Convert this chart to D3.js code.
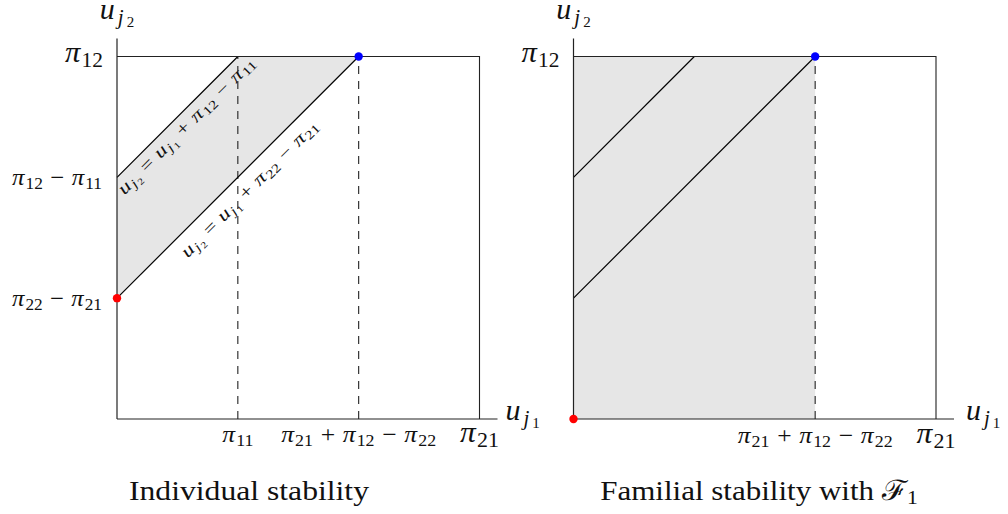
<!DOCTYPE html>
<html>
<head>
<meta charset="utf-8">
<script src="https://cdn.jsdelivr.net/npm/d3@7"></script>
<style>
  body { margin: 0; background: #fff; }
</style>
</head>
<body>
<svg id="fig" width="1008" height="514"></svg>
<script>
// Payoffs of the two-by-two matching game
const pi11 = 1, pi12 = 3, pi21 = 3, pi22 = 4;

// Boundary lines u_j2 = u_j1 + c
const boundaryLabels = ["u_{j_2} = u_{j_1} + π_{12} − π_{11}", "u_{j_2} = u_{j_1} + π_{22} − π_{21}"];
const boundaryIntercepts = [pi12 - pi11, pi22 - pi21];

// Tick values and their labels
const leftYTickValues = [pi12, pi12 - pi11, pi22 - pi21];
const leftYTickLabels = ["π_{12}", "π_{12} − π_{11}", "π_{22} − π_{21}"];
const leftXTickValues = [pi11, pi21 + pi12 - pi22, pi21];
const leftXTickLabels = ["π_{11}", "π_{21} + π_{12} − π_{22}", "π_{21}"];
const rightYTickValues = [pi12];
const rightYTickLabels = ["π_{12}"];
const rightXTickValues = [pi21 + pi12 - pi22, pi21];
const rightXTickLabels = ["π_{21} + π_{12} − π_{22}", "π_{21}"];

const axisLabels = ["u_{j_1}", "u_{j_2}"];
const panelTitles = ["Individual stability", "Familial stability with ℱ_{1}"];

const FONT = "'Liberation Serif', 'DejaVu Serif', serif";
const svg = d3.select("#fig");

// --- small TeX-like label renderer (subscripts via _ and {}) ---
function parseTex(str) {
  const out = [];
  (function rec(s, lvl) {
    let i = 0;
    while (i < s.length) {
      const c = s[i];
      if (c === "_") {
        i++;
        let arg;
        if (s[i] === "{") {
          let depth = 1, j = i + 1;
          while (depth) { if (s[j] === "{") depth++; else if (s[j] === "}") depth--; j++; }
          arg = s.slice(i + 1, j - 1); i = j;
        } else { arg = s[i]; i++; }
        rec(arg, lvl + 1);
      } else { out.push({ ch: c, lvl }); i++; }
    }
  })(str, 0);
  return out;
}

function kindOf(ch, math) {
  if ("=+−".includes(ch)) return math ? "op" : "rm";
  if (math && /[a-zπ]/.test(ch)) return "it";
  return "rm";
}

// opts: x, y, anchor, math, opGap, subGap, width (stretch horizontally to this width)
function texLabel(parent, str, S, opts = {}) {
  const math = opts.math !== false;
  const x0 = opts.x || 0, y0 = opts.y || 0;
  const t = parent.append("text")
    .attr("x", x0).attr("y", y0)
    .attr("font-family", FONT)
    .attr("fill", "#111")
    .attr("text-anchor", opts.anchor || "start");
  const items = parseTex(str).filter(d => !(math && d.ch === " "));
  const runs = [];
  items.forEach(d => {
    const k = kindOf(d.ch, math);
    const last = runs[runs.length - 1];
    if (last && last.lvl === d.lvl && last.kind === k && k !== "op") last.text += d.ch;
    else runs.push({ text: d.ch, lvl: d.lvl, kind: k });
  });
  const sizes = [S, 0.7 * S, 0.5 * S];
  const shifts = [0, 0.16 * S, 0.27 * S];
  const opGap = (opts.opGap != null ? opts.opGap : 0.26) * S;
  const subGap = (opts.subGap != null ? opts.subGap : 0.04) * S;
  let cur = 0, pad = 0, prevLvl = 0;
  runs.forEach(r => {
    const ts = t.append("tspan").text(r.text)
      .attr("font-size", sizes[r.lvl])
      .attr("font-style", r.kind === "it" ? "italic" : "normal");
    const target = shifts[r.lvl];
    if (target !== cur) ts.attr("dy", target - cur);
    cur = target;
    let dx = pad;
    pad = 0;
    if (r.kind === "op") { dx += opGap; pad = opGap; }
    if (math && r.lvl > prevLvl) dx += subGap;
    prevLvl = r.lvl;
    if (dx) ts.attr("dx", dx);
  });
  if (opts.width) {
    const w = t.node().getBBox().width;
    const sx = opts.width / w;
    t.attr("transform", `translate(${x0},${y0}) scale(${sx},1) translate(${-x0},${-y0})`);
  }
  return t;
}

// --- panel drawing ---
const boxTop = 56.5, boxBottom = 419, ext = 18;

function drawPanel(cfg) {
  const g = svg.append("g");
  const x = d3.scaleLinear().domain([0, pi21]).range([cfg.left, cfg.left + 362.5]);
  const y = d3.scaleLinear().domain([0, pi12]).range([boxBottom, boxTop]);

  // shaded stable region
  g.append("path")
    .attr("d", d3.line().x(d => x(d[0])).y(d => y(d[1]))(cfg.region) + "Z")
    .attr("fill", "#e6e6e6").attr("stroke", "none");

  // dashed guides
  g.selectAll(".guide").data(cfg.dashed).join("line")
    .attr("x1", d => x(d)).attr("x2", d => x(d))
    .attr("y1", y(0)).attr("y2", y(pi12))
    .attr("stroke", "#222").attr("stroke-width", 1.1)
    .attr("stroke-dasharray", "8,7");

  // boundary lines inside the box
  boundaryIntercepts.forEach((c, i) => {
    const p0 = [0, c], p1 = [pi12 - c, pi12];
    g.append("line")
      .attr("x1", x(p0[0])).attr("y1", y(p0[1]))
      .attr("x2", x(p1[0])).attr("y2", y(p1[1]))
      .attr("stroke", "#000").attr("stroke-width", 1.2);
    if (cfg.lineLabels) {
      const mx = (x(p0[0]) + x(p1[0])) / 2, my = (y(p0[1]) + y(p1[1])) / 2;
      const ang = Math.atan2(y(p1[1]) - y(p0[1]), x(p1[0]) - x(p0[0])) * 180 / Math.PI;
      const lg = g.append("g").attr("transform", `translate(${mx},${my}) rotate(${ang})`);
      texLabel(lg, boundaryLabels[i], 18, { anchor: "middle", y: cfg.labelOffsets[i], opGap: 0.3, subGap: 0.06, width: 186 });
    }
  });

  // box and axes
  const frame = d3.path();
  frame.moveTo(x(0), y(pi12)); frame.lineTo(x(pi21), y(pi12)); frame.lineTo(x(pi21), y(0));
  g.append("path").attr("d", frame.toString()).attr("fill", "none")
    .attr("stroke", "#222").attr("stroke-width", 1.1);
  g.append("line").attr("x1", x(0)).attr("x2", x(pi21) + ext).attr("y1", y(0)).attr("y2", y(0))
    .attr("stroke", "#222").attr("stroke-width", 1.2);
  g.append("line").attr("x1", x(0)).attr("x2", x(0)).attr("y1", y(0)).attr("y2", y(pi12) - ext)
    .attr("stroke", "#222").attr("stroke-width", 1.2);

  // highlighted points
  cfg.points.forEach(p => {
    g.append("circle").attr("cx", x(p.at[0])).attr("cy", y(p.at[1])).attr("r", 4.2).attr("fill", p.color);
  });

  // tick labels: box-edge ticks are set larger
  cfg.yTicks.forEach((v, i) => {
    const big = v === pi12;
    texLabel(g, cfg.yLabels[i], big ? 30 : 23, {
      anchor: "end", x: x(0) - (big ? 14 : 15), y: y(v) + (big ? 6 : 8),
      opGap: 0.3, width: big ? 38 : 90
    });
  });
  cfg.xTicks.forEach((v, i) => {
    const big = v === pi21;
    const lab = cfg.xLabels[i];
    texLabel(g, lab, big ? 30 : 23, {
      anchor: "middle", x: x(v), y: boxBottom + cfg.xLabelDrop,
      opGap: 0.3, width: big ? 39 : (lab.length > 10 ? 155 : 31)
    });
  });

  // axis names
  texLabel(g, axisLabels[1], 30, { anchor: "middle", x: x(0), y: 19, subGap: 0.1 });
  texLabel(g, axisLabels[0], 30, { anchor: "start", x: x(pi21) + ext + cfg.xNameGap, y: boxBottom + 1, subGap: 0.1 });

  // panel title
  texLabel(g, cfg.title, 28, { anchor: "middle", x: cfg.titleX, y: 500, math: false, width: cfg.titleWidth });
}

const cut = pi21 + pi12 - pi22;

drawPanel({
  left: 117,
  region: [[0, pi22 - pi21], [0, pi12 - pi11], [pi12 - (pi12 - pi11), pi12], [pi12 - (pi22 - pi21), pi12]],
  dashed: [pi11, cut],
  lineLabels: true,
  labelOffsets: [18, 22],
  points: [{ at: [0, pi22 - pi21], color: "#ff0000" }, { at: [cut, pi12], color: "#0000ff" }],
  yTicks: leftYTickValues, yLabels: leftYTickLabels,
  xTicks: leftXTickValues, xLabels: leftXTickLabels,
  xLabelDrop: 23,
  xNameGap: 8,
  title: panelTitles[0], titleX: 249, titleWidth: 240
});

drawPanel({
  left: 573.5,
  region: [[0, 0], [0, pi12], [cut, pi12], [cut, 0]],
  dashed: [cut],
  lineLabels: false,
  points: [{ at: [0, 0], color: "#ff0000" }, { at: [cut, pi12], color: "#0000ff" }],
  yTicks: rightYTickValues, yLabels: rightYTickLabels,
  xTicks: rightXTickValues, xLabels: rightXTickLabels,
  xLabelDrop: 24,
  xNameGap: 12,
  title: panelTitles[1], titleX: 759, titleWidth: 318
});
</script>
</body>
</html>
